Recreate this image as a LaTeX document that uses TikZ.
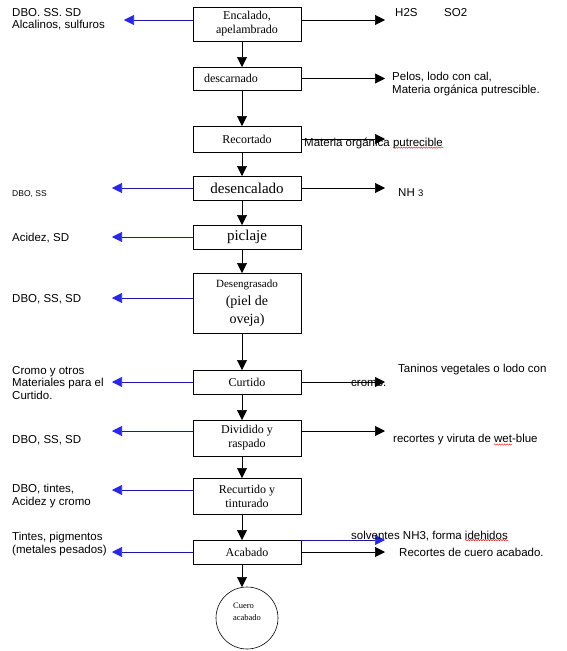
\documentclass[tikz,border=0pt]{standalone}
\usepackage{fontspec}
\setmainfont{Liberation Serif}
\setsansfont{Liberation Sans}
\usetikzlibrary{arrows.meta,positioning,decorations.pathmorphing}
\definecolor{outblue}{RGB}{25,25,165}
\definecolor{tipblue}{RGB}{40,40,235}

\begin{document}
\begin{tikzpicture}[x=1pt,y=-1pt,
  stage/.style={draw,rectangle,minimum width=108pt,inner sep=0pt,outer sep=0pt,
    align=center,line width=0.6pt,font=\fontsize{12}{14}\selectfont},
  note/.style={font=\sffamily\fontsize{11.5}{12.5}\selectfont,align=left,
    inner sep=0pt,anchor=west},
  down/.style={-{Triangle[length=10pt,width=10pt]},line width=0.6pt},
  waste/.style={-{Triangle[length=10pt,width=10pt]},line width=0.6pt},
  lost/.style={draw=outblue,line width=0.6pt,
    -{Triangle[length=10pt,width=10pt,color=tipblue,fill=tipblue]}},
  squiggle/.style={red,line width=0.4pt,decorate,
    decoration={snake,amplitude=0.7pt,segment length=2.5pt}}]

  \useasboundingbox (0,0) rectangle (566,651);

  % process stages
  \node[stage,minimum height=34pt] (enc) at (247,24) {Encalado,\\apelambrado};
  \node[stage,minimum height=23pt,text width=86pt,align=left] (desc) [below=26pt of enc] {descarnado};
  \node[stage,minimum height=26pt] (reco) [below=36pt of desc] {Recortado};
  \node[stage,minimum height=24pt,font=\fontsize{15}{17}\selectfont] (desenc) [below=24pt of reco] {desencalado};
  \node[stage,minimum height=24pt,font=\fontsize{15}{17}\selectfont] (picl) [below=25pt of desenc] {piclaje};
  \node[stage,minimum height=60pt,font=\fontsize{14}{18}\selectfont] (deseng) [below=24pt of picl]
    {{\fontsize{11}{14}\selectfont Desengrasado}\\(piel de\\oveja)};
  \node[stage,minimum height=24pt] (curt) [below=37pt of deseng] {Curtido};
  \node[stage,minimum height=36pt] (divi) [below=26pt of curt] {Dividido y\\raspado};
  \node[stage,minimum height=36pt] (recu) [below=22pt of divi] {Recurtido y\\tinturado};
  \node[stage,minimum height=24pt] (acab) [below=26pt of recu] {Acabado};
  \node[draw,circle,minimum size=62pt,inner sep=0pt,outer sep=0pt,line width=0.6pt] (cuero) [below=23pt of acab] {};
  \node[font=\fontsize{8.5}{12}\selectfont,align=left,inner sep=0pt] (cuerotxt)
    at ([yshift=6pt]cuero.center) {Cuero\\acabado};

  % main flow
  \foreach \a/\b in {enc/desc,desc/reco,reco/desenc,desenc/picl,picl/deseng,
                     deseng/curt,curt/divi,divi/recu,recu/acab,acab/cuero}
    \draw[down] ([xshift=-5pt]\a.south) -- ([xshift=-5pt]\a.south |- \b.north);

  % outputs to the left
  \draw[lost] ([yshift=4pt]enc.west) -- ++(-69,0);
  \draw[lost] (desenc.west) -- ++(-81,0);
  \draw[lost] (picl.west) -- ++(-81,0);
  \draw[lost] ([yshift=5pt]deseng.west) -- ++(-81,0);
  \draw[lost] (curt.west) -- ++(-81,0);
  \draw[lost] ([yshift=7pt]divi.west) -- ++(-81,0);
  \draw[lost] ([yshift=6pt]recu.west) -- ++(-81,0);
  \draw[lost] (acab.west) -- ++(-81,0);

  % outputs to the right
  \draw[waste] ([yshift=4pt]enc.east) -- ++(84,0);
  \draw[waste] (desc.east) -- ++(84,0);
  \draw[waste] (reco.east) -- ++(84,0);
  \draw[waste] (desenc.east) -- ++(84,0);
  \draw[waste] (curt.east) -- ++(84,0);
  \draw[waste] ([yshift=7pt]divi.east) -- ++(84,0);
  \draw[waste] (acab.east) -- ++(84,0);
  \draw[lost] (acab.north east) -- ++(84,0);

  % labels
  \node[note] (encl) at (12,19) {DBO. SS. SD\\Alcalinos, sulfuros};
  \node[note] (encr1) at (395,13) {H2S};
  \node[note] (encr2) at (444,13) {SO2};
  \node[note] (descr) at (392,84) {Pelos, lodo con cal,\\Materia orgánica putrescible.};
  \node[note] (recor) at (304,143) {Materia orgánica putrecible};
  \node[note,font=\sffamily\fontsize{8.5}{10}\selectfont] (desencl) at (12,194) {DBO, SS};
  \node[note] (desencr) at (398,193) {NH {\fontsize{9.5}{10}\selectfont 3}};
  \node[note] (picll) at (12,238) {Acidez, SD};
  \node[note] (desengl) at (12,299) {DBO, SS, SD};
  \node[note] (curtl) at (12,383) {Cromo y otros\\Materiales para el\\Curtido.};
  \node[note] (curtr1) at (398,370) {Taninos vegetales o lodo con};
  \node[note] (curtr2) at (351,383) {cromo.};
  \node[note] (divil) at (12,440) {DBO, SS, SD};
  \node[note] (divir) at (393,440) {recortes y viruta de wet-blue};
  \node[note] (recul) at (12,496) {DBO, tintes,\\Acidez y cromo};
  \node[note] (acabl) at (12,544) {Tintes, pigmentos\\(metales pesados)};
  \node[note] (acabr1) at (351,536) {solventes NH3, forma idehidos};
  \node[note] (acabr2) at (399,552) {Recortes de cuero acabado.};

  % spell-check marks
  \draw[squiggle] ([xshift=-50pt,yshift=1pt]recor.south east) -- ([yshift=1pt]recor.south east);
  \draw[squiggle] ([xshift=-44pt,yshift=1pt]divir.south east) -- ([xshift=-26pt,yshift=1pt]divir.south east);
  \draw[squiggle] ([xshift=-43pt,yshift=1pt]acabr1.south east) -- ([yshift=1pt]acabr1.south east);
\end{tikzpicture}
\end{document}
